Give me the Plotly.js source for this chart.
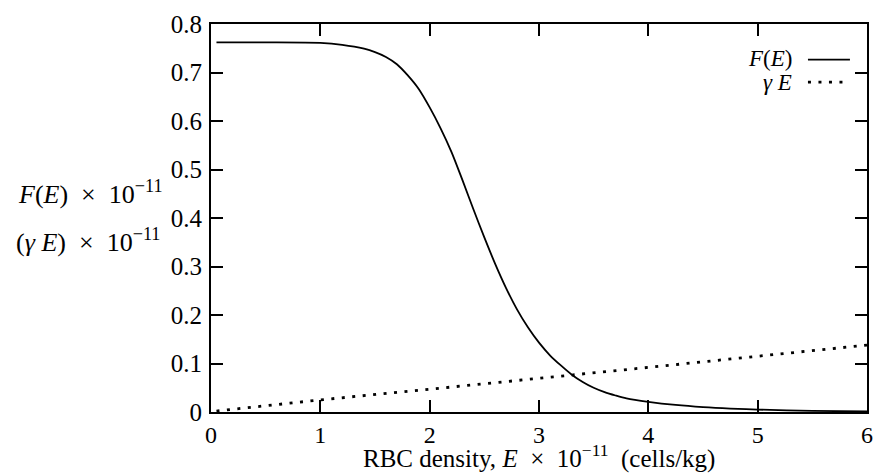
<!DOCTYPE html>
<html>
<head>
<meta charset="utf-8">
<script src="https://cdn.plot.ly/plotly-3.0.1.min.js"></script>
<style>html,body{margin:0;padding:0;background:#fff;}#chart{width:875px;height:474px;}</style>
</head>
<body>
<div id="chart"></div>
<script>
// RBC density E (x 10^-11 cells/kg)
var densityE = [0.05, 0.5, 1.0, 1.2, 1.4, 1.5, 1.6, 1.7, 1.8, 1.9, 2.0, 2.1, 2.2, 2.3, 2.4, 2.5, 2.6, 2.7, 2.8, 2.9, 3.0, 3.1, 3.2, 3.3, 3.4, 3.5, 3.6, 3.7, 3.8, 4.0, 4.25, 4.5, 4.75, 5.0, 5.5, 6.0];
// F(E) x 10^-11
var productionF = [0.762, 0.762, 0.761, 0.757, 0.749, 0.742, 0.732, 0.717, 0.694, 0.666, 0.628, 0.585, 0.536, 0.478, 0.418, 0.360, 0.305, 0.255, 0.211, 0.174, 0.143, 0.117, 0.096, 0.077, 0.062, 0.050, 0.041, 0.034, 0.028, 0.021, 0.0145, 0.010, 0.007, 0.005, 0.0025, 0.001];
// gamma*E line
var lineE = [0.05, 1, 2, 3, 4, 5, 6];
var decayGammaE = [0.002, 0.025, 0.047, 0.069, 0.092, 0.115, 0.138];

var xTicks = [0, 1, 2, 3, 4, 5, 6];
var yTicks = [0, 0.1, 0.2, 0.3, 0.4, 0.5, 0.6, 0.7, 0.8];
var yTickText = ['0', '0.1', '0.2', '0.3', '0.4', '0.5', '0.6', '0.7', '0.8'];
var xTitle = 'RBC density, <i>E</i>  ×  10<sup>−11</sup>  (cells/kg)';

var serif = 'Liberation Serif, Times New Roman, serif';

var traces = [
  {x: densityE, y: productionF, mode: 'lines', name: 'F(E)',
   line: {color: '#000', width: 1.8, shape: 'spline', smoothing: 0.8}},
  {x: lineE, y: decayGammaE, mode: 'lines', name: 'γE',
   line: {color: '#000', width: 2.8, dash: '3px,7.5px'}}
];

var axisCommon = {
  showgrid: false, zeroline: false, showline: true, linecolor: '#000', linewidth: 2,
  mirror: 'allticks', ticks: 'inside', ticklen: 12, tickwidth: 2, tickcolor: '#000',
  tickfont: {family: serif, size: 25, color: '#000'}
};

var layout = {
  width: 875, height: 474,
  margin: {l: 211, r: 8, t: 24, b: 62},
  paper_bgcolor: '#fff', plot_bgcolor: '#fff',
  showlegend: false,
  xaxis: Object.assign({}, axisCommon, {
    range: [0, 6], tickvals: xTicks, ticktext: xTicks.map(String), ticklabelstandoff: 0,
    tickfont: {family: serif, size: 24, color: '#000'}
  }),
  yaxis: Object.assign({}, axisCommon, {
    range: [0, 0.8], tickvals: yTicks, ticktext: yTickText, ticklabelstandoff: 2
  }),
  annotations: [
    {xref: 'paper', yref: 'paper', x: 0.5, y: -0.16, xanchor: 'center', yanchor: 'bottom', borderpad: 0, showarrow: false,
     text: xTitle, font: {family: serif, size: 25, color: '#000'}},
    {xref: 'paper', yref: 'paper', x: -0.07, y: 0.565, xanchor: 'right', yanchor: 'middle', showarrow: false,
     text: '<i>F</i>(<i>E</i>)  ×  10<sup>−11</sup>', font: {family: serif, size: 26, color: '#000'}},
    {xref: 'paper', yref: 'paper', x: -0.075, y: 0.442, xanchor: 'right', yanchor: 'middle', showarrow: false,
     text: '(<i>γ E</i>)  ×  10<sup>−11</sup>', font: {family: serif, size: 26, color: '#000'}},
    {xref: 'paper', yref: 'paper', x: 0.887, y: 0.911, xanchor: 'right', yanchor: 'middle', borderpad: 0, showarrow: false,
     text: '<i>F</i>(<i>E</i>)', font: {family: serif, size: 23, color: '#000'}},
    {xref: 'paper', yref: 'paper', x: 0.887, y: 0.848, xanchor: 'right', yanchor: 'middle', borderpad: 0, showarrow: false,
     text: '<i>γ E</i>', font: {family: serif, size: 23, color: '#000'}}
  ],
  shapes: [
    {type: 'line', xref: 'paper', yref: 'paper', x0: 0.91, x1: 0.974, y0: 0.908, y1: 0.908, line: {color: '#000', width: 1.8}},
    {type: 'line', xref: 'paper', yref: 'paper', x0: 0.91, x1: 0.974, y0: 0.85, y1: 0.85, line: {color: '#000', width: 2.8, dash: '3px,7.5px'}}
  ]
};

Plotly.newPlot('chart', traces, layout, {displayModeBar: false, staticPlot: true});
</script>
</body>
</html>
